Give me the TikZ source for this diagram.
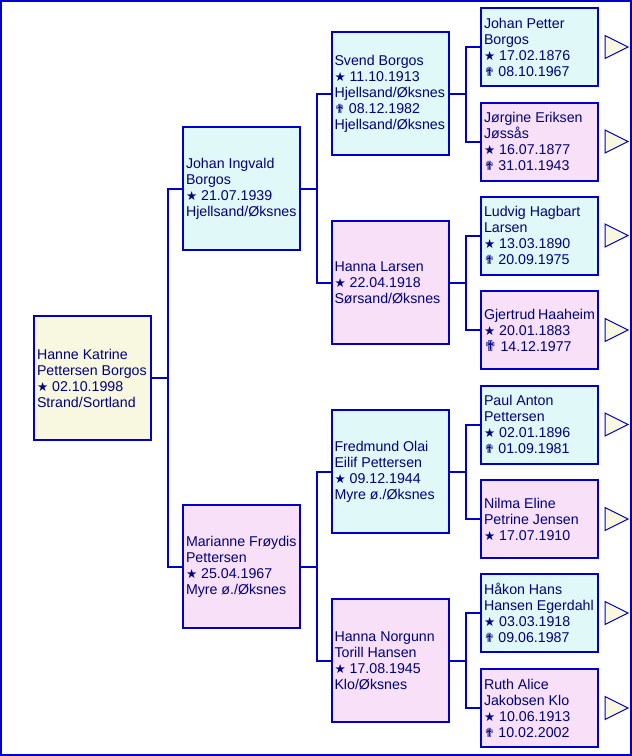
\documentclass[tikz,border=0pt]{standalone}
\usepackage{fontspec}
\setmainfont{Liberation Sans}
\newfontfamily\symfont{DejaVu Sans}
\definecolor{bordblue}{RGB}{0,0,204}
\definecolor{txtblue}{RGB}{0,0,128}
\definecolor{malefill}{RGB}{224,248,248}
\definecolor{femfill}{RGB}{248,224,248}
\definecolor{rootfill}{RGB}{248,248,224}
\newcommand{\bstar}{{\symfont\fontsize{12.5}{16}\selectfont ★}}
\newcommand{\dcross}{{\symfont\fontsize{12.5}{16}\selectfont ✟}}
\tikzset{
  person/.style={draw=bordblue, line width=2pt, text=txtblue,
    minimum width=117pt, text width=111pt, inner xsep=3pt, inner ysep=2pt,
    align=flush left, font=\fontsize{14.2}{16}\selectfont},
  bigbox/.style={person, minimum height=123pt},
  smallbox/.style={person, minimum height=78pt},
  male/.style={fill=malefill},
  female/.style={fill=femfill},
  root/.style={fill=rootfill},
  link/.style={draw=bordblue, line width=2pt},
  more/.style={draw=bordblue, line width=1pt, fill=rootfill, line join=miter},
}
\begin{document}
\begin{tikzpicture}[x=1pt,y=-1pt]
\useasboundingbox (0,0) rectangle (632,756);
\fill[white] (0,0) rectangle (632,756);
\draw[bordblue, line width=2pt] (1,1) rectangle (630.5,754.5);

% generation 0
\node[bigbox, root, minimum height=124pt] (p0) at (92.5,378) {Hanne~Katrine\\Pettersen~Borgos\\\bstar{} 02.10.1998\\Strand/Sortland};

% generation 1
\node[bigbox, male] (p1) at (241.5,188.5) {Johan~Ingvald\\Borgos\\\bstar{} 21.07.1939\\Hjellsand/Øksnes};
\node[bigbox, female] (p2) at (241.5,566.5) {Marianne~Frøydis\\Pettersen\\\bstar{} 25.04.1967\\Myre~ø./Øksnes};

% generation 2
\node[bigbox, male] (p3) at (390,93.5) {Svend~Borgos\\\bstar{} 11.10.1913\\Hjellsand/Øksnes\\\dcross{} 08.12.1982\\Hjellsand/Øksnes};
\node[bigbox, female] (p4) at (390,282.5) {Hanna~Larsen\\\bstar{} 22.04.1918\\Sørsand/Øksnes};
\node[bigbox, male] (p5) at (390,471.5) {Fredmund~Olai\\Eilif~Pettersen\\\bstar{} 09.12.1944\\Myre~ø./Øksnes};
\node[bigbox, female] (p6) at (390,660.5) {Hanna~Norgunn\\Torill~Hansen\\\bstar{} 17.08.1945\\Klo/Øksnes};

% generation 3
\node[smallbox, male] (p7) at (539.5,47) {Johan~Petter\\Borgos\\\bstar{} 17.02.1876\\\dcross{} 08.10.1967};
\node[smallbox, female] (p8) at (539.5,141.5) {Jørgine~Eriksen\\Jøssås\\\bstar{} 16.07.1877\\\dcross{} 31.01.1943};
\node[smallbox, male] (p9) at (539.5,235.5) {Ludvig~Hagbart\\Larsen\\\bstar{} 13.03.1890\\\dcross{} 20.09.1975};
\node[smallbox, female] (p10) at (539.5,330) {Gjertrud~Haaheim\\\bstar{} 20.01.1883\\{\symfont\fontsize{15}{16}\selectfont ✟}~14.12.1977};
\node[smallbox, male] (p11) at (539.5,424.5) {Paul~Anton\\Pettersen\\\bstar{} 02.01.1896\\\dcross{} 01.09.1981};
\node[smallbox, female] (p12) at (539.5,519) {Nilma~Eline\\Petrine~Jensen\\\bstar{} 17.07.1910};
\node[smallbox, male] (p13) at (539.5,613) {Håkon~Hans\\Hansen~Egerdahl\\\bstar{} 03.03.1918\\\dcross{} 09.06.1987};
\node[smallbox, female] (p14) at (539.5,708) {Ruth~Alice\\Jakobsen~Klo\\\bstar{} 10.06.1913\\\dcross{} 10.02.2002};

% connectors
\foreach \pa/\ca/\cb in {p0/p1/p2, p1/p3/p4, p2/p5/p6, p3/p7/p8, p4/p9/p10, p5/p11/p12, p6/p13/p14}{
  \draw[link] (\pa.east) -- ++(16,0) |- (\ca.west);
  \draw[link] (\pa.east) -- ++(16,0) |- (\cb.west);
}

% continuation triangles
\foreach \n in {p7,p8,p9,p10,p11,p12,p13,p14}{
  \draw[more] (\n.east) ++(6,-11.5) -- ++(23,11.5) -- ++(-23,11.5) -- cycle;
}
\end{tikzpicture}
\end{document}
